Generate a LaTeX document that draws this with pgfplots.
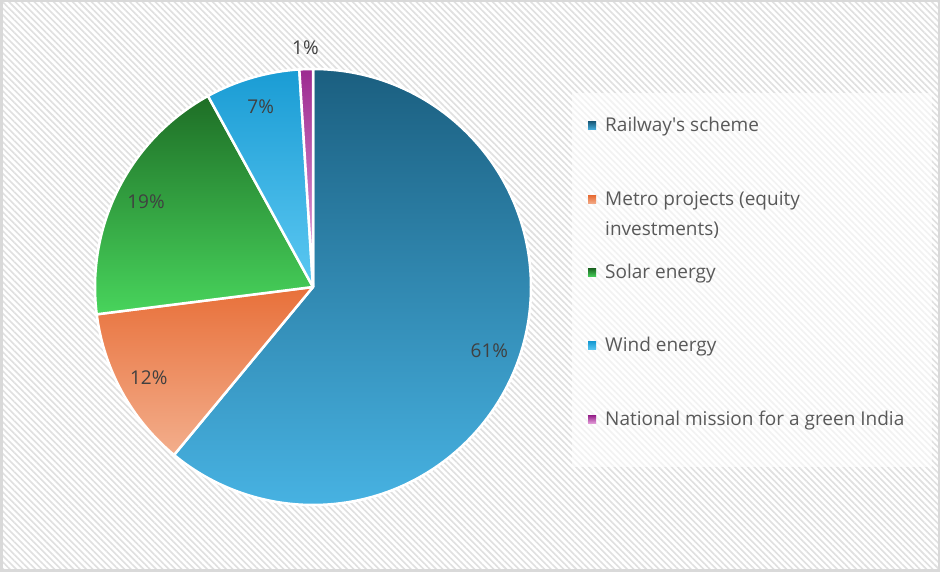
\documentclass[border=0pt]{standalone}
\usepackage{pgfplots}
\pgfplotsset{compat=1.18}
\usepackage{pgfplotstable}
\usepackage{fontspec}
\setmainfont{Open Sans}
\usetikzlibrary{patterns.meta}

\definecolor{railT}{HTML}{1B5F80}
\definecolor{railB}{HTML}{47B2E2}
\definecolor{metroT}{HTML}{E8703A}
\definecolor{metroB}{HTML}{F3AE8C}
\definecolor{solarT}{HTML}{1E6E26}
\definecolor{solarB}{HTML}{48D45C}
\definecolor{windT}{HTML}{1A9CD4}
\definecolor{windB}{HTML}{5CC8F2}
\definecolor{natT}{HTML}{9C2A90}
\definecolor{natB}{HTML}{E9A6DF}
\definecolor{labelgray}{HTML}{404040}
\definecolor{leggray}{HTML}{595959}

\newcommand\labelfont{\fontsize{19}{22}\selectfont}
\newcommand\legfont{\fontsize{19}{30}\selectfont}

% share of each item, percent
\pgfplotstableread[col sep=comma]{
name,value,top,bottom
Railway's scheme,61,railT,railB
Metro projects,12,metroT,metroB
Solar energy,19,solarT,solarB
Wind energy,7,windT,windB
National mission,1,natT,natB
}\piedata

\begin{document}
\begin{tikzpicture}
\begin{scope}[x=1pt,y=1pt]
\fill[white] (0,0) rectangle (940,572);
\fill[pattern={Lines[angle=-45,distance=4.5pt,line width=1.6pt]}, pattern color=black!12] (0,0) rectangle (940,572);
\draw[black!15, line width=2.5pt] (1.25,1.25) rectangle (938.75,570.75);
\fill[white, opacity=0.6] (572,105) rectangle (932,479);
\end{scope}

\begin{axis}[
  at={(313pt,285pt)}, anchor=center,
  width=436pt, height=436pt, scale only axis,
  xmin=-1, xmax=1, ymin=-1, ymax=1,
  hide axis, clip=false,
]
\pgfplotstablegetrowsof{\piedata}
\pgfmathtruncatemacro\nlast{\pgfplotsretval-1}
\def\cum{0}
\pgfplotsforeachungrouped \i in {0,...,\nlast}{%
  \pgfplotstablegetelem{\i}{value}\of\piedata \let\v\pgfplotsretval
  \pgfplotstablegetelem{\i}{top}\of\piedata \let\ct\pgfplotsretval
  \pgfplotstablegetelem{\i}{bottom}\of\piedata \let\cb\pgfplotsretval
  \pgfmathsetmacro\a{90-3.6*\cum}
  \pgfmathsetmacro\b{90-3.6*(\cum+\v)}
  \pgfmathsetmacro\m{(\a+\b)/2}
  \pgfmathsetmacro\xa{cos(\a)}
  \pgfmathsetmacro\ya{sin(\a)}
  \pgfmathsetmacro\rl{\v<3 ? 1.1 : 0.86}
  \pgfmathsetmacro\xl{\rl*cos(\m)}
  \pgfmathsetmacro\yl{\rl*sin(\m)}
  \edef\slice{%
    \noexpand\path[top color=\ct, bottom color=\cb, draw=white, line width=2.5pt, line join=round]
      (axis cs:0,0) -- (axis cs:\xa,\ya) arc[start angle=\a, end angle=\b, radius=218pt] -- cycle;
    \noexpand\node[font=\noexpand\labelfont, text=labelgray] at (axis cs:\xl,\yl) {\v\noexpand\%};
  }%
  \slice
  \pgfmathsetmacro\cum{\cum+\v}
}
\end{axis}

% legend
\begin{scope}[x=1pt,y=1pt,every node/.style={anchor=base west, font=\legfont, text=leggray, inner sep=0pt}]
\shade[top color=railT, bottom color=railB] (588,442) rectangle (596,450);
\node at (605,440) {Railway\textquotesingle s scheme};
\shade[top color=metroT, bottom color=metroB] (588,368) rectangle (596,376);
\node[align=left] at (605,336) {Metro projects (equity\\investments)};
\shade[top color=solarT, bottom color=solarB] (588,295) rectangle (596,303);
\node at (605,293) {Solar energy};
\shade[top color=windT, bottom color=windB] (588,222) rectangle (596,230);
\node at (605,220) {Wind energy};
\shade[top color=natT, bottom color=natB] (588,148) rectangle (596,156);
\node at (605,146) {National mission for a green India};
\end{scope}
\end{tikzpicture}
\end{document}
